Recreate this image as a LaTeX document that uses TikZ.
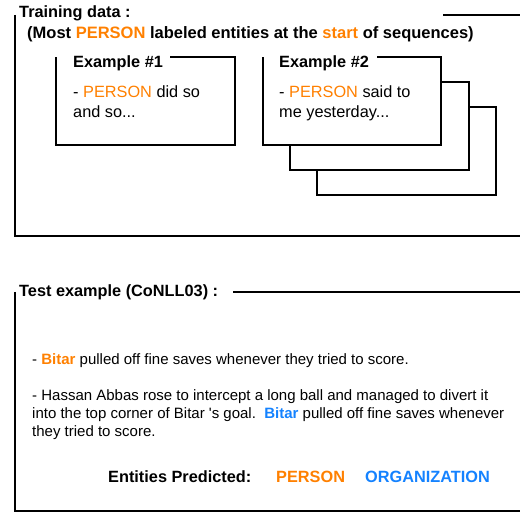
\documentclass[tikz,border=0pt]{standalone}
\usepackage{fontspec}
\setmainfont{Liberation Sans}
\usepackage{tikz}
\definecolor{black}{rgb}{0,0,0}
\definecolor{perorange}{RGB}{255,128,0}
\definecolor{orgblue}{RGB}{20,130,255}
\newcommand{\per}[1]{\textcolor{perorange}{#1}}
\newcommand{\org}[1]{\textcolor{orgblue}{#1}}

\begin{document}
\begin{tikzpicture}[x=1pt, y=-1pt,
		frame/.style={black, line width=2.6pt},
		exframe/.style={black, line width=2.4pt},
		txt/.style={anchor=base west, inner sep=0pt, font=\fontsize{15}{18}\selectfont},
		extxt/.style={anchor=base west, inner sep=0pt, font=\fontsize{16.3}{20}\selectfont},
		ttl/.style={anchor=base west, inner sep=0pt, font=\fontsize{16.3}{20}\selectfont\bfseries}]
		\useasboundingbox (0,0) rectangle (520,513);

		% Training data frame
		\draw [frame] (15,15) -- (15,236) -- (523,236);
		\draw [frame] (443,15) -- (523,15);
		\node [ttl] (traintitle) at (19,18) {Training data :};
		\node [ttl, font=\fontsize{16.5}{20}\selectfont\bfseries] (trainnote) at (27,39) {(Most \per{PERSON} labeled entities at the \per{start} of sequences)};

		% Example #1
		\draw [exframe] (170,57) -- (235,57) -- (235,145) -- (56,145) -- (56,57);
		\node [ttl] (extitleA) at (73,68) {Example \#1};
		\node [extxt] (exlineAa) at (73,98) {- \per{PERSON} did so};
		\node [extxt] (exlineAb) at (73,118) {and so...};

		% Example #2 with stacked copies behind
		\draw [exframe, fill=white] (317,107) rectangle (496,195);
		\draw [exframe, fill=white] (290,82) rectangle (469,170);
		\fill [white] (263,57) rectangle (441,145);
		\draw [exframe] (377,57) -- (441,57) -- (441,145) -- (263,145) -- (263,57);
		\node [ttl] (extitleB) at (279,68) {Example \#2};
		\node [extxt] (exlineBa) at (279,98) {- \per{PERSON} said to};
		\node [extxt] (exlineBb) at (279,118) {me yesterday...};

		% Test example frame
		\draw [frame] (15,292) -- (15,511) -- (523,511);
		\draw [frame] (233,292) -- (523,292);
		\node [ttl] (testtitle) at (19,297) {Test example (CoNLL03) :};
		\node [txt] (testA) at (32,364) {- \per{\textbf{Bitar}} pulled off fine saves whenever they tried to score.};
		\node [txt] (testBa) at (32,400) {- Hassan Abbas rose to intercept a long ball and managed to divert it};
		\node [txt] (testBb) at (32,418) {into the top corner of Bitar \textquotesingle s goal.\ \ \org{\textbf{Bitar}} pulled off fine saves whenever};
		\node [txt] (testBc) at (32,436) {they tried to score.};

		% Predictions
		\node [ttl] (predlabel) at (108,482) {Entities Predicted:};
		\node [ttl, text=perorange] (predper) at (276,482) {PERSON};
		\node [ttl, text=orgblue] (predorg) at (365,482) {ORGANIZATION};
	\end{tikzpicture}
\end{document}
